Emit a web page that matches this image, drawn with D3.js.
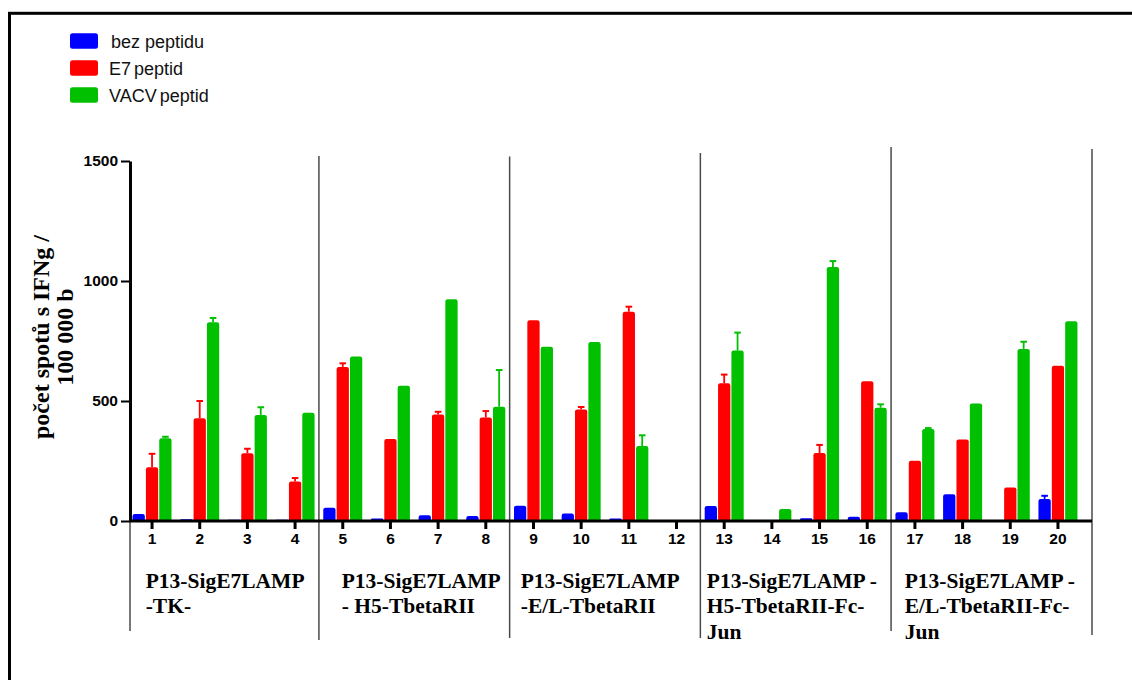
<!DOCTYPE html>
<html>
<head>
<meta charset="utf-8">
<script src="https://cdn.jsdelivr.net/npm/d3@7/dist/d3.min.js"></script>
<style>
  html, body { margin: 0; padding: 0; background: #fff; }
  svg { display: block; }
</style>
</head>
<body>
<svg id="chart" width="1132" height="680"></svg>
<script>
// ---------- DATA ----------
const categories = ["1","2","3","4","5","6","7","8","9","10","11","12","13","14","15","16","17","18","19","20"];
const seriesNames = ["bez peptidu", "E7 peptid", "VACV peptid"];
const seriesColors = ["#0000FF", "#FF0000", "#00C000"];

const bezPeptidu = [29, 7, 5, 5, 55, 10, 24, 21, 64, 31, 10, 0, 62, 0, 11, 18, 36, 111, 3, 92];
const e7Peptid   = [224, 428, 282, 165, 642, 342, 444, 431, 836, 465, 872, 0, 574, 3, 283, 582, 251, 340, 140, 647];
const vacvPeptid = [345, 828, 442, 451, 685, 564, 924, 476, 726, 746, 312, 0, 710, 50, 1058, 472, 383, 490, 717, 832];

// upward error (SEM) for each bar
const bezErr  = [0, 0, 0, 0, 0, 0, 0, 0, 0, 0, 0, 0, 0, 0, 0, 0, 0, 0, 0, 13];
const e7Err   = [56, 72, 19, 14, 15, 0, 11, 27, 0, 10, 21, 0, 36, 0, 34, 0, 0, 0, 0, 0];
const vacvErr = [6, 18, 32, 0, 0, 0, 0, 153, 0, 0, 45, 0, 75, 0, 25, 14, 4, 0, 30, 0];

const yTicks = [0, 500, 1000, 1500];
const yTitle = ["počet spotů s IFNg /", "100 000 b"];

const groupStarts = ["1", "5", "9", "13", "17"];
const groupLabels = [
  ["P13-SigE7LAMP", "-TK-"],
  ["P13-SigE7LAMP", "- H5-TbetaRII"],
  ["P13-SigE7LAMP", "-E/L-TbetaRII"],
  ["P13-SigE7LAMP -", "H5-TbetaRII-Fc-", "Jun"],
  ["P13-SigE7LAMP -", "E/L-TbetaRII-Fc-", "Jun"]
];

// ---------- LAYOUT ----------
const L = {
  axisX: 130, axisRight: 1092,
  bandLeft: 128.2, bandRight: 1081.8,
  yTop: 161, yBottom: 521,
  labelOffsets: [17.5, 22.8, 11.1, 6.4, 13.6],
  labelBaseline: 587.5, labelLineH: 25.8,
  sepTops: [497, 156, 156.5, 153, 147, 149],
  sepBottoms: [631, 640, 638, 638, 631, 635]
};

const svg = d3.select("#chart");
svg.append("rect").attr("width", 1132).attr("height", 680).attr("fill", "#fff");

// outer frame
svg.append("rect")
  .attr("x", 9.5).attr("y", 13.3).attr("width", 1140).attr("height", 700)
  .attr("fill", "none").attr("stroke", "#000").attr("stroke-width", 3);

// scales
const x = d3.scaleBand().domain(categories).range([L.bandLeft, L.bandRight]).padding(0);
const xs = d3.scaleBand().domain(seriesNames).range([-19.5, 19.5]).paddingInner(0.08);
const y = d3.scaleLinear().domain([0, 1500]).range([L.yBottom, L.yTop]);

const values = [bezPeptidu, e7Peptid, vacvPeptid];
const errs = [bezErr, e7Err, vacvErr];

const sansFont = "'Liberation Sans', Arial, Helvetica, sans-serif";
const serifFont = "'Liberation Serif', 'Times New Roman', serif";

// group separators
const sepXs = [L.axisX].concat(groupStarts.slice(1).map(c => x(c))).concat([L.axisRight]);
svg.append("g").selectAll("line").data(sepXs).join("line")
  .attr("x1", d => d).attr("x2", d => d)
  .attr("y1", (d, i) => L.sepTops[i]).attr("y2", (d, i) => L.sepBottoms[i])
  .attr("stroke", "#4a4a4a").attr("stroke-width", 1.5);

// bars
function barPath(x0, y0, w, h) {
  if (h <= 0) return "";
  const r = Math.min(2.2, h / 2, w / 2);
  return `M${x0},${y0}V${y0 - h + r}Q${x0},${y0 - h} ${x0 + r},${y0 - h}H${x0 + w - r}Q${x0 + w},${y0 - h} ${x0 + w},${y0 - h + r}V${y0}Z`;
}

const barData = [];
seriesNames.forEach((s, si) => {
  categories.forEach((c, ci) => {
    barData.push({ s, si, c, v: values[si][ci], e: errs[si][ci] });
  });
});

const cx = d => x(d.c) + x.bandwidth() / 2 + xs(d.s);

// error bars (behind bars)
const errG = svg.append("g");
barData.filter(d => d.e > 0).forEach(d => {
  const xm = cx(d) + xs.bandwidth() / 2;
  errG.append("line")
    .attr("x1", xm).attr("x2", xm)
    .attr("y1", y(d.v)).attr("y2", y(d.v + d.e))
    .attr("stroke", seriesColors[d.si]).attr("stroke-width", 1.8);
  errG.append("line")
    .attr("x1", xm - 3.3).attr("x2", xm + 3.3)
    .attr("y1", y(d.v + d.e)).attr("y2", y(d.v + d.e))
    .attr("stroke", seriesColors[d.si]).attr("stroke-width", 2);
});

svg.append("g").selectAll("path").data(barData.filter(d => d.v > 0)).join("path")
  .attr("d", d => barPath(cx(d), y(0), xs.bandwidth(), y(0) - y(d.v)))
  .attr("fill", d => seriesColors[d.si]);

// y axis
const yAxis = svg.append("g")
  .attr("transform", `translate(${L.axisX},0)`)
  .call(d3.axisLeft(y).tickValues(yTicks).tickFormat(d3.format("d")).tickSize(9).tickSizeOuter(0).tickPadding(3));
yAxis.select(".domain").attr("stroke-width", 3);
yAxis.selectAll(".tick line").attr("stroke-width", 2);
yAxis.selectAll(".tick text")
  .attr("font-family", sansFont).attr("font-weight", "bold").attr("font-size", 15.5).attr("fill", "#000");

// x axis
const xAxis = svg.append("g")
  .attr("transform", `translate(0,${y(0)})`)
  .call(d3.axisBottom(x).tickSize(8).tickSizeOuter(0).tickPadding(4));
xAxis.select(".domain").attr("d", `M${L.axisX},0H${L.axisRight}`).attr("stroke-width", 3.2);
xAxis.selectAll(".tick line").attr("stroke-width", 3);
xAxis.selectAll(".tick text")
  .attr("font-family", sansFont).attr("font-weight", "bold").attr("font-size", 15.5).attr("fill", "#000");

// y title
const yt = svg.append("g");
yTitle.forEach((t, i) => {
  yt.append("text")
    .attr("transform", `translate(${49 + i * 24},337) rotate(-90)`)
    .attr("text-anchor", "middle")
    .attr("font-family", serifFont).attr("font-weight", "bold").attr("font-size", 24)
    .text(t);
});

// group labels
groupLabels.forEach((lines, gi) => {
  const gx = (gi === 0 ? x.range()[0] : x(groupStarts[gi])) + L.labelOffsets[gi];
  const t = svg.append("text")
    .attr("font-family", serifFont).attr("font-weight", "bold").attr("font-size", 21.5).attr("fill", "#000");
  lines.forEach((ln, li) => {
    t.append("tspan").attr("x", gx).attr("y", L.labelBaseline + li * L.labelLineH).text(ln);
  });
});

// legend
const leg = svg.append("g");
seriesNames.forEach((s, i) => {
  leg.append("rect")
    .attr("x", 70).attr("y", 33.3 + i * 27).attr("width", 28).attr("height", 15.5)
    .attr("rx", 2.5).attr("fill", seriesColors[i]);
  leg.append("text")
    .attr("x", 111 - (i > 0 ? 2 : 0)).attr("y", 47.5 + i * 27)
    .attr("font-family", sansFont).attr("font-size", 18).attr("fill", "#111")
    .attr("word-spacing", i > 0 ? -2 : 0)
    .text(s);
});
</script>
</body>
</html>
